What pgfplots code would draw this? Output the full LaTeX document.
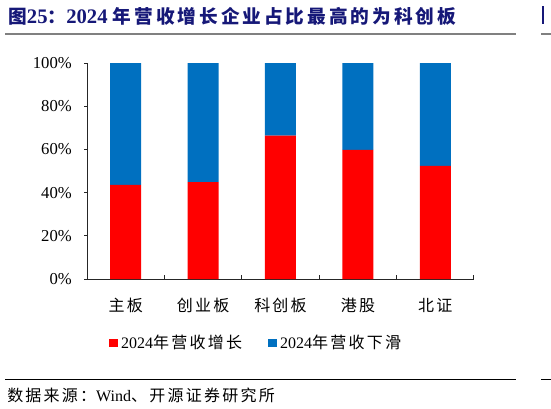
\documentclass[border=0pt]{standalone}
\usepackage{fontspec}
\setmainfont{Liberation Serif}
\newfontfamily\cjk[LetterSpace=14]{Noto Sans CJK SC}
\newfontfamily\cjkt[LetterSpace=16]{Noto Sans CJK SC}
\usepackage{pgfplots}
\pgfplotsset{compat=1.18}
\definecolor{navy}{RGB}{22,24,120}
\definecolor{barred}{RGB}{255,0,0}
\definecolor{barblue}{RGB}{0,112,192}
\begin{document}
\begin{tikzpicture}
\begin{scope}[x=0.75pt,y=-0.75pt]
\path[use as bounding box] (0,0) rectangle (551,408);
\node[anchor=base west, inner sep=0pt, text=navy, font=\fontsize{15.5}{18}\selectfont\bfseries] at (8,23.5)
  {{\cjkt\fontsize{14}{18}\selectfont 图}25{\cjkt\fontsize{14}{18}\selectfont ：}2024 {\cjkt\fontsize{14}{18}\selectfont 年营收增长企业占比最高的为科创板}};
\draw[line width=1.5pt, color=gray] (5,34) -- (516,34);
\fill[navy] (541.5,6) rectangle (543.5,24);
\draw[line width=1.5pt, color=gray] (541,34) -- (551,34);
\draw[line width=0.75pt] (5,379) -- (516,379);
\draw[line width=0.75pt] (541,379) -- (551,379);
\node[anchor=west, inner sep=0pt, font=\fontsize{12}{14}\selectfont] at (7,395.5)
  {{\cjk 数据来源：}Wind{\cjk 、开源证券研究所}};
\end{scope}
\begin{axis}[
  at={(65.25pt,-209.25pt)}, anchor=south west,
  width=290.25pt, height=162pt, scale only axis,
  xmin=-0.5, xmax=4.5, ymin=0, ymax=100,
  ybar stacked, bar width=23.25pt,
  axis lines*=left,
  axis line style={-, black!85, line width=0.75pt},
  ytick={0,20,40,60,80,100},
  yticklabels={0\%,20\%,40\%,60\%,80\%,100\%},
  xtick={0,1,2,3,4},
  xticklabels={主板,创业板,科创板,港股,北证},
  minor xtick={-0.5,0.5,1.5,2.5,3.5,4.5},
  tick align=outside,
  major tick length=2.25pt,
  minor tick length=3pt,
  major x tick style={draw=none},
  minor x tick style={yshift=3pt, black!85, line width=0.75pt},
  y tick style={black!85, line width=0.75pt},
  y tick label style={font=\fontsize{12.5}{14}\selectfont, inner sep=0pt, xshift=-9pt},
  x tick label style={font=\cjk\fontsize{12}{14}\selectfont, inner sep=0pt, yshift=-12pt},
  legend columns=2,
  legend image code/.code={\fill[#1] (0pt,-3.3pt) rectangle (6.75pt,3.3pt);},
  legend style={at={(0.0568,-0.2963)}, anchor=west, draw=none, fill=none, inner sep=0pt,
    font=\fontsize{12}{14}\selectfont,
    nodes={inner sep=0pt},
    /tikz/every odd column/.append style={column sep=2.25pt},
    /tikz/every even column/.append style={column sep=19.5pt}},
]
\addplot[fill=barred, draw=none] coordinates {(0,43.6) (1,44.8) (2,66.4) (3,59.8) (4,52.4)};
\addplot[fill=barblue, draw=none] coordinates {(0,56.4) (1,55.2) (2,33.6) (3,40.2) (4,47.6)};
\addlegendentry{2024{\cjk 年营收增长}}
\addlegendentry{2024{\cjk 年营收下滑}}
\end{axis}
\end{tikzpicture}
\end{document}
